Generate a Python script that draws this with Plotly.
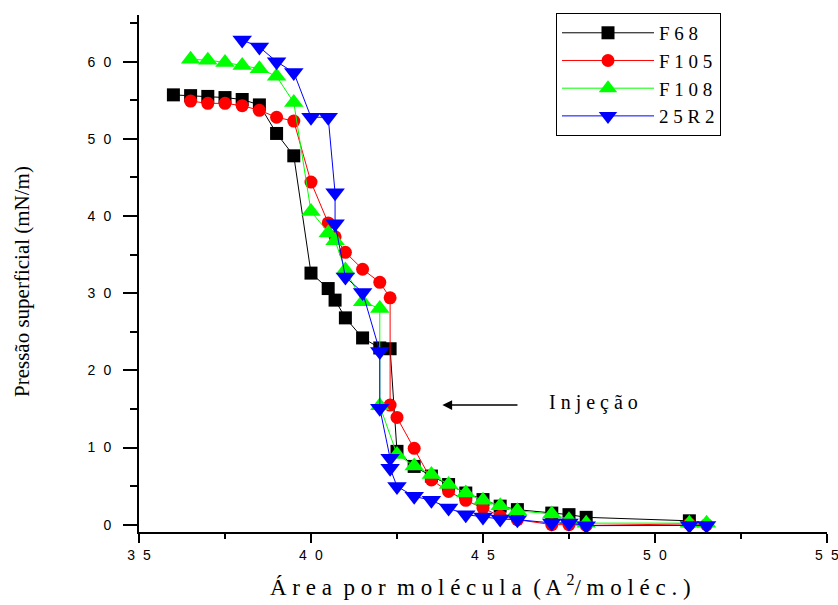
import plotly.graph_objects as go

# ---- data ----
f68_x = [36, 36.5, 37, 37.5, 38, 38.5, 39, 39.5, 40, 40.5, 40.7, 41, 41.5, 42.0, 42.3, 42.5, 43, 43.5, 44, 44.5, 45, 45.5, 46, 47, 47.5, 48, 51]
f68_y = [55.7, 55.6, 55.5, 55.35, 55.1, 54.4, 50.7, 47.8, 32.6, 30.6, 29.1, 26.8, 24.2, 22.9, 22.8, 9.5, 7.55, 6.3, 5.2, 4.1, 3.25, 2.4, 1.95, 1.5, 1.3, 0.95, 0.5]

f105_x = [36.5, 37, 37.5, 38, 38.5, 39, 39.5, 40, 40.5, 40.7, 41, 41.5, 42, 42.3, 42.3, 42.5, 43, 43.5, 44, 44.5, 45, 45.5, 46, 47, 47.5, 48, 51, 51.5]
f105_y = [54.9, 54.6, 54.6, 54.3, 53.7, 52.8, 52.3, 44.4, 39.1, 37.3, 35.3, 33.1, 31.4, 29.4, 15.5, 13.9, 9.9, 5.8, 4.3, 3.15, 2.15, 1.1, 0.65, 0.0, 0.0, -0.1, 0.1, 0.0]

f108_x = [36.5, 37, 37.5, 38, 38.5, 39, 39.5, 40, 40.5, 40.7, 41, 41.5, 42, 42, 42.5, 43, 43.5, 44, 44.5, 45, 45.5, 46, 47, 47.5, 48, 51, 51.5]
f108_y = [60.3, 60.2, 59.9, 59.5, 59.1, 58.1, 54.7, 40.6, 37.8, 36.8, 33.0, 28.9, 28.0, 15.4, 9.1, 7.6, 6.5, 5.2, 4.1, 3.15, 2.46, 1.8, 1.38, 0.65, 0.2, 0.2, 0.2]

r25_x = [38, 38.5, 39, 39.5, 40, 40.5, 40.7, 40.7, 41, 41.5, 42, 42, 42.3, 42.3, 42.5, 43, 43.5, 44, 44.5, 45, 45.5, 46, 47, 47.5, 48, 51, 51.5]
r25_y = [62.8, 61.9, 60.0, 58.6, 52.8, 52.8, 43.0, 39.0, 32.1, 30.1, 22.45, 15.1, 8.6, 7.3, 4.96, 3.67, 3.15, 2.15, 1.3, 1.0, 0.73, 0.65, 0.22, 0.22, -0.13, -0.1, -0.1]

series_names = ["F 6 8", "F 1 0 5", "F 1 0 8", "2 5 R 2"]

SEP = "\u2002\u200a"
x_tickvals = [35, 40, 45, 50, 55]
x_ticktext = ["3" + SEP + "5", "4" + SEP + "0", "4" + SEP + "5", "5" + SEP + "0", "5" + SEP + "5"]
y_tickvals = [0, 10, 20, 30, 40, 50, 60]
y_ticktext = ["0"] + [str(d) + SEP + "0" for d in range(1, 7)]

SERIF = "Liberation Serif, Times New Roman, serif"
SANS = "Liberation Sans, Arial, sans-serif"

fig = go.Figure()
specs = [
    (f68_x, f68_y, series_names[0], "black", "square", 13),
    (f105_x, f105_y, series_names[1], "#ff0000", "circle", 13),
    (f108_x, f108_y, series_names[2], "#00ff00", "triangle-up", 17),
    (r25_x, r25_y, series_names[3], "#0000ff", "triangle-down", 17),
]
for xs, ys, name, col, sym, sz in specs:
    fig.add_trace(go.Scatter(
        x=xs, y=ys, name=name, mode="lines+markers",
        line=dict(color=col, width=1),
        marker=dict(symbol=sym, size=sz, color=col, line=dict(width=0)),
    ))

L, R, T, B = 139, 11, 15, 73
PH = 605 - T - B
PW = 838 - L - R

fig.update_layout(
    width=838, height=605,
    margin=dict(l=L, r=R, t=T, b=B, autoexpand=False),
    paper_bgcolor="white", plot_bgcolor="white",
    showlegend=True,
    legend=dict(
        x=(556 - L) / PW, y=1.004, xanchor="left", yanchor="top",
        bordercolor="black", borderwidth=1, bgcolor="white",
        font=dict(family=SERIF, size=19, color="black"),
        tracegroupgap=0, itemwidth=92,
    ),
    xaxis=dict(
        range=[35, 55.001], showgrid=False, zeroline=False, automargin=False,
        showline=True, linecolor="black", linewidth=2,
        ticks="outside", ticklen=9, tickwidth=2, tickcolor="black",
        tickvals=x_tickvals, ticktext=x_ticktext, ticklabeloverflow="allow",
        tickfont=dict(family=SANS, size=14, color="black"),
        minor=dict(ticks="outside", ticklen=5, tickwidth=2, tickcolor="black", dtick=2.5, tick0=35),
    ),
    yaxis=dict(
        range=[-0.95, 66.05], showgrid=False, zeroline=False, automargin=False,
        showline=True, linecolor="black", linewidth=2,
        ticks="outside", ticklen=14, tickwidth=2, tickcolor="black",
        tickvals=y_tickvals, ticktext=y_ticktext, ticklabelstandoff=9,
        tickfont=dict(family=SANS, size=14, color="black"),
        minor=dict(ticks="outside", ticklen=7, tickwidth=2, tickcolor="black", dtick=5, tick0=0),
    ),
    annotations=[
        dict(x=43.82, y=15.5, ax=46.09, ay=15.5, xref="x", yref="y", axref="x", ayref="y",
             text=" ", showarrow=True, arrowhead=2, arrowsize=1.3, arrowwidth=1.5, arrowcolor="black"),
        dict(x=46.85, y=15.8, xref="x", yref="y", xanchor="left", yanchor="middle",
             text="I n j e ç ã o", showarrow=False,
             font=dict(family=SERIF, size=20, color="black")),
        dict(x=(22 - L) / PW, y=(532 - 282) / PH, xref="paper", yref="paper", xanchor="center", yanchor="middle",
             text="Pressão superficial (mN/m)", showarrow=False, textangle=-90,
             font=dict(family=SERIF, size=21, color="black")),
        dict(x=(480 - L) / PW, y=-(586 - 532) / PH, xref="paper", yref="paper", xanchor="center", yanchor="middle",
             text="Á r e a\u00a0 p o r\u00a0 m o l é c u l a\u00a0 ( A <sup>2</sup>/ m o l é c . )",
             showarrow=False, font=dict(family=SERIF, size=23, color="black")),
    ],
)

fig.write_html("out.html")
